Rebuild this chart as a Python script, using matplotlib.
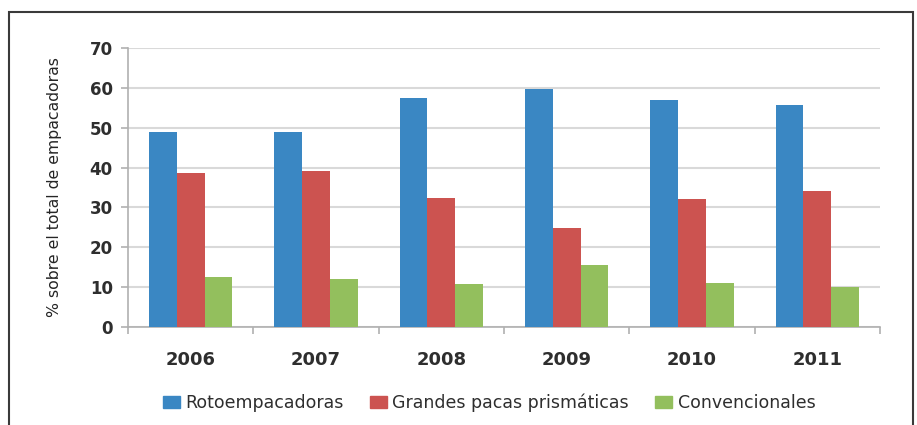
import matplotlib
matplotlib.use('Agg')
import matplotlib.pyplot as plt
import matplotlib.patches as mpatches
import numpy as np

# data
years = ['2006', '2007', '2008', '2009', '2010', '2011']
series_names = ['Rotoempacadoras', 'Grandes pacas prismáticas', 'Convencionales']
roto = [48.9, 49.0, 57.4, 59.7, 57.0, 55.6]
grandes = [38.6, 39.1, 32.4, 24.8, 32.2, 34.2]
conven = [12.5, 12.1, 10.8, 15.6, 11.1, 10.1]
yticks = [0, 10, 20, 30, 40, 50, 60, 70]

COLORS = ['#3a87c3', '#cc5350', '#93bf5d']
TXT = '#2e2e2e'

fig = plt.figure(figsize=(9.17, 4.25), dpi=100)
ax = fig.add_axes([128 / 917, 98 / 425, 752 / 917, 279 / 425])

x = np.arange(len(years))
w = 0.221
for i, vals in enumerate([roto, grandes, conven]):
    ax.bar(x + (i - 1) * w, vals, width=w, color=COLORS[i], zorder=3)

ax.set_xlim(-0.5, len(years) - 0.5)
ax.set_ylim(0, 70)
ax.set_yticks(yticks)
ax.set_yticklabels([str(t) for t in yticks], fontsize=12, fontweight='bold', color=TXT)
ax.yaxis.grid(True, color='#d9d9d9', lw=1.5, zorder=0)

# year labels, ticks at category boundaries
ax.set_xticks(x)
ax.set_xticklabels(years, fontsize=13, fontweight='bold', color=TXT)
ax.tick_params(axis='x', length=0, pad=17)
ax.set_xticks(np.arange(-0.5, len(years)), minor=True)
ax.tick_params(axis='x', which='minor', length=5, color='#b0b0b0', width=1.2)
ax.tick_params(axis='y', length=5, color='#b0b0b0', width=1.2, pad=6)

for s in ['top', 'right']:
    ax.spines[s].set_visible(False)
ax.spines['left'].set_color('#b0b0b0')
ax.spines['bottom'].set_color('#b0b0b0')
ax.spines['left'].set_linewidth(1.2)
ax.spines['bottom'].set_linewidth(1.2)

ax.set_ylabel('% sobre el total de empacadoras', fontsize=11.3, color='#252525', labelpad=20)

handles = [mpatches.Rectangle((0, 0), 1, 1, color=c) for c in COLORS]
fig.legend(handles, series_names, loc='center', bbox_to_anchor=(489 / 917, 22 / 425),
           ncol=3, frameon=False, fontsize=12.5, handlelength=1.0, handleheight=0.65,
           handletextpad=0.3, columnspacing=1.5, labelcolor=TXT)

# outer frame (bottom edge is cut off in the original)
frame = mpatches.Rectangle((9 / 917, -0.1), 904 / 917, 1.1 - 12 / 425, transform=fig.transFigure,
                           fill=False, edgecolor='#3a3a3a', lw=1.5)
fig.patches.append(frame)

fig.savefig('out.png', dpi=100)
